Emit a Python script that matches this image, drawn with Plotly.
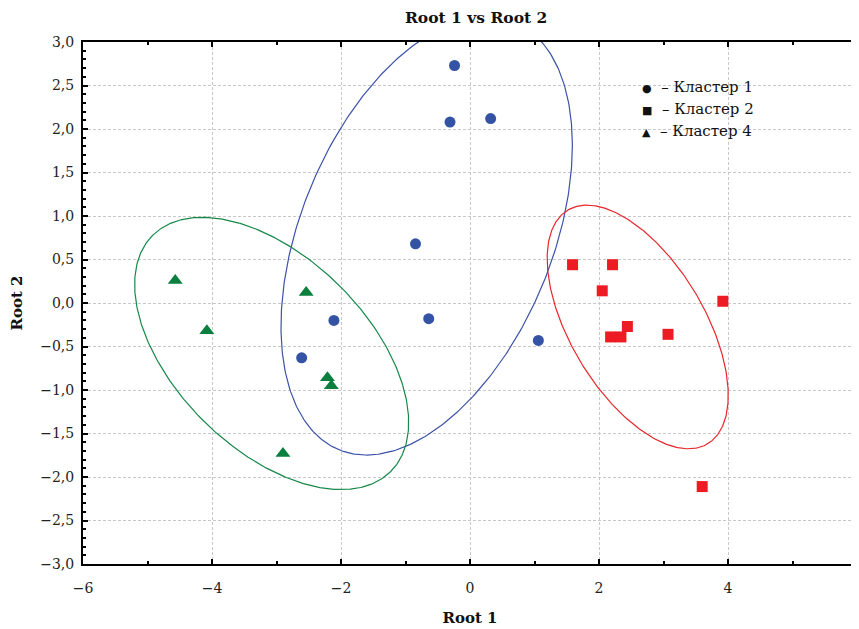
import numpy as np
import plotly.graph_objects as go

# ---- data ----
cluster_names = ["Кластер 1", "Кластер 2", "Кластер 4"]

c1_x = [-0.24, -0.31, 0.32, -0.845, -0.64, -2.11, -2.61, 1.06]
c1_y = [2.73, 2.08, 2.12, 0.68, -0.18, -0.20, -0.63, -0.43]

c2_x = [1.59, 2.21, 2.05, 3.92, 2.44, 2.18, 2.34, 3.07, 3.60]
c2_y = [0.44, 0.44, 0.14, 0.02, -0.27, -0.39, -0.39, -0.36, -2.11]

c4_x = [-4.57, -4.08, -2.54, -2.21, -2.15, -2.90]
c4_y = [0.26, -0.32, 0.12, -0.86, -0.95, -1.73]

# ellipse size (in standard deviations of each cluster)
ellipse_scale = [1.875, 1.83, 2.09]

x_ticks = [-6, -4, -2, 0, 2, 4, 6]
y_ticks = [-3.0, -2.5, -2.0, -1.5, -1.0, -0.5, 0.0, 0.5, 1.0, 1.5, 2.0, 2.5, 3.0]

# ---- style ----
colors = ["#3453A5", "#ED1C24", "#0A7F3E"]
line_colors = ["#3D52A8", "#E8262B", "#17884A"]
symbols = ["circle", "square", "triangle-up"]
sizes = [11, 11, 13]
FONT = "DejaVu Serif"

fig = go.Figure()

clusters = [(c1_x, c1_y), (c2_x, c2_y), (c4_x, c4_y)]
t = np.linspace(0, 2 * np.pi, 400)
for (xs, ys), k, lc in zip(clusters, ellipse_scale, line_colors):
    pts = np.vstack([xs, ys])
    mean = pts.mean(axis=1)
    cov = np.cov(pts)
    vals, vecs = np.linalg.eigh(cov)
    circle = np.vstack([np.cos(t), np.sin(t)])
    ell = vecs @ (np.sqrt(vals)[:, None] * circle) * k + mean[:, None]
    fig.add_trace(go.Scatter(x=ell[0], y=ell[1], mode="lines",
                             line=dict(color=lc, width=1.2),
                             hoverinfo="skip", showlegend=False))

for (xs, ys), c, s, sz, name in zip(clusters, colors, symbols, sizes, cluster_names):
    fig.add_trace(go.Scatter(x=xs, y=ys, mode="markers", name=name,
                             marker=dict(color=c, symbol=s, size=sz, line=dict(width=0)),
                             showlegend=False))

# legend as text
legend_glyphs = ["●", "■", "▲"]
legend_y = [0.914, 0.872, 0.829]
for g, name, yy in zip(legend_glyphs, cluster_names, legend_y):
    fig.add_annotation(xref="paper", yref="paper", x=0.72, y=yy,
                       xanchor="left", yanchor="middle", showarrow=False,
                       text=f"<span style='font-size:11px'>{g}</span>  – {name}",
                       font=dict(family=FONT, size=15, color="#111"))

axis_common = dict(
    showline=True, linecolor="black", linewidth=2, mirror="allticks",
    ticks="inside", tickcolor="black", tickwidth=2, ticklen=5,
    showgrid=True, gridcolor="#c8c8c8", gridwidth=1, griddash="3px,2px",
    zeroline=False, automargin=False, ticklabeloverflow="allow",
    tickfont=dict(family=FONT, size=14, color="#222"),
)

fig.update_xaxes(range=[-6, 6], tickvals=x_ticks,
                 minor=dict(dtick=1, ticks="inside", ticklen=3, tickwidth=2, tickcolor="black", showgrid=False),
                 title=dict(text="<b>Root 1</b>", font=dict(family=FONT, size=15, color="#111"), standoff=18),
                 ticklabelstandoff=10,
                 **axis_common)
fig.update_yaxes(range=[-3, 3], tickvals=y_ticks, tickformat=".1f",
                 minor=dict(dtick=0.1, tick0=0, ticks="inside", ticklen=3, tickwidth=2, tickcolor="black", showgrid=False),
                 title=dict(text="<b>Root 2</b>", font=dict(family=FONT, size=15, color="#111"), standoff=14),
                 ticklabelstandoff=4,
                 **axis_common)

fig.update_layout(
    width=859, height=629,
    margin=dict(l=75, r=10, t=34, b=73),
    paper_bgcolor="white", plot_bgcolor="white",
    separators=", ",
    title=dict(text="<b>Root 1 vs Root 2</b>", x=0.545, xanchor="center",
               y=0.984, yanchor="middle",
               font=dict(family=FONT, size=15.5, color="#111")),
    showlegend=False,
)

fig.write_html("out.html")
